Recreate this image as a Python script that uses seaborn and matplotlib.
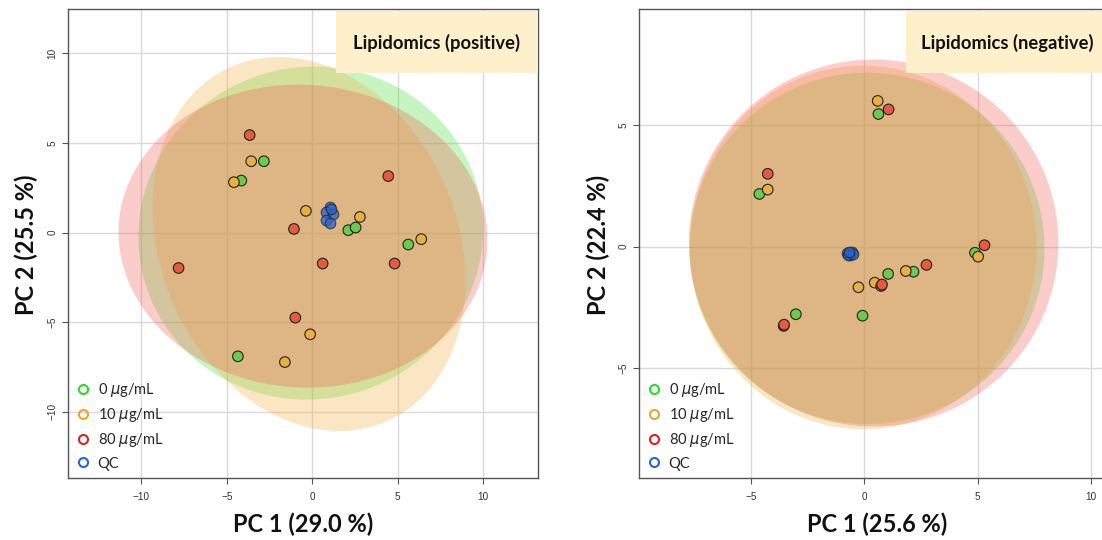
import numpy as np
import pandas as pd
import matplotlib
matplotlib.use("Agg")
import matplotlib.pyplot as plt
from matplotlib.patches import Ellipse, Rectangle
from matplotlib.lines import Line2D
import seaborn as sns

# ---------------- data ----------------
group_names = ["0 $\\mu$g/mL", "10 $\\mu$g/mL", "80 $\\mu$g/mL", "QC"]

# Lipidomics (positive) PCA scores
pos_green_x = [-2.84, -4.16, 2.10, 2.53, 5.61, -4.36]
pos_green_y = [3.98, 2.90, 0.13, 0.28, -0.67, -6.91]
pos_orange_x = [-3.58, -4.59, -0.38, 2.78, 6.37, -0.13, -1.61]
pos_orange_y = [3.98, 2.81, 1.21, 0.87, -0.37, -5.68, -7.23]
pos_red_x = [-3.67, 4.44, -1.08, 0.60, 4.81, -7.83, -1.00]
pos_red_y = [5.44, 3.15, 0.20, -1.73, -1.73, -1.98, -4.75]
pos_qc_x = [1.05, 0.81, 1.18, 0.81, 1.01, 1.07]
pos_qc_y = [1.45, 1.12, 1.06, 0.69, 0.54, 1.34]

# Lipidomics (negative) PCA scores
neg_green_x = [0.62, -4.63, 4.88, 1.05, 2.17, -3.02, -0.08]
neg_green_y = [5.46, 2.17, -0.25, -1.12, -1.03, -2.78, -2.84]
neg_orange_x = [0.59, -4.26, 5.02, 1.83, 0.46, -0.26]
neg_orange_y = [6.00, 2.35, -0.41, -1.00, -1.48, -1.67]
neg_red_x = [1.07, -4.26, 5.30, 2.74, 0.74, 0.78, -3.56, -3.54]
neg_red_y = [5.65, 3.00, 0.06, -0.75, -1.62, -1.56, -3.26, -3.21]
neg_qc_x = [-0.75, -0.55, -0.62, -0.70, -0.50, -0.66]
neg_qc_y = [-0.28, -0.20, -0.35, -0.36, -0.30, -0.22]

# 95% confidence ellipses (order: 0, 10, 80 ug/mL): centre, semi-axes, angle
pos_ell_cx = [-0.10, -0.20, -0.55]
pos_ell_cy = [-0.03, -0.64, -0.20]
pos_ell_a = [10.1, 8.6, 10.8]
pos_ell_b = [9.28, 10.9, 8.45]
pos_ell_ang = [8, 28, -3]

neg_ell_cx = [0.12, -0.05, 0.41]
neg_ell_cy = [-0.07, -0.03, 0.15]
neg_ell_a = [7.83, 7.65, 8.15]
neg_ell_b = [7.23, 7.48, 7.55]
neg_ell_ang = [0, 0, 0]

pos_pc1, pos_pc2 = 29.0, 25.5
neg_pc1, neg_pc2 = 25.6, 22.4

# ---------------- style ----------------
point_colors = ["#6CCB4E", "#EBAF41", "#E65A40", "#2864D2"]
fill_colors = ["#48DE37", "#F5AF3E", "#F25A50"]
legend_colors = ["#2BD92B", "#F0A22E", "#DD2222", "#2266DD"]

sns.set_theme(style="white")
plt.rcParams["font.family"] = ["Lato", "DejaVu Sans"]
plt.rcParams["mathtext.fontset"] = "dejavusans"

W, H = 1102, 540
fig = plt.figure(figsize=(W / 100, H / 100), dpi=100)


def rect(l, r, t, b):
    return [l / W, 1 - b / H, (r - l) / W, (b - t) / H]


def frame(xs, ys):
    rows = []
    for g, (x, y) in enumerate(zip(xs, ys)):
        for xi, yi in zip(x, y):
            rows.append({"PC1": xi, "PC2": yi, "group": group_names[g]})
    return pd.DataFrame(rows)


def draw_panel(ax, df, ell, xlim, ylim, xticks, yticks, xlab, ylab,
               title, title_x, xlab_x, ylab_x):
    ax.set_xlim(*xlim)
    ax.set_ylim(*ylim)
    ax.set_xticks(xticks)
    ax.set_yticks(yticks)
    ax.grid(True, color="#DADADA", linewidth=1.0, zorder=0)
    ax.set_axisbelow(True)

    cx, cy, a, b, ang = ell
    for i in range(3):
        ax.add_patch(Ellipse((cx[i], cy[i]), 2 * a[i], 2 * b[i], angle=ang[i],
                             facecolor=fill_colors[i], edgecolor="none",
                             alpha=0.3, zorder=1))

    main = df[df["group"] != "QC"]
    qc = df[df["group"] == "QC"]
    sns.scatterplot(data=main, x="PC1", y="PC2", hue="group",
                    hue_order=group_names[:3], palette=point_colors[:3],
                    s=58, edgecolor="#222222", linewidth=0.8, legend=False,
                    ax=ax, zorder=3)
    sns.scatterplot(data=qc, x="PC1", y="PC2", color=point_colors[3],
                    s=58, edgecolor="#222222", linewidth=0.8, alpha=0.75,
                    legend=False, ax=ax, zorder=4)

    for s in ax.spines.values():
        s.set_color("#555555")
        s.set_linewidth(1.0)
    ax.tick_params(axis="both", bottom=True, left=True, direction="out",
                   length=4.3, width=0.8, color="#555555", labelsize=7.2,
                   labelcolor="#333333")
    ax.tick_params(axis="x", pad=6.0)
    ax.tick_params(axis="y", pad=3.5)
    for lab in ax.get_xticklabels() + ax.get_yticklabels():
        lab.set_fontfamily(["Liberation Sans", "DejaVu Sans"])
    for lab in ax.get_yticklabels():
        lab.set_rotation(90)
        lab.set_verticalalignment("center")

    ax.set_xlabel(xlab, fontsize=17, fontweight="bold", color="#111111")
    ax.set_ylabel(ylab, fontsize=17, fontweight="bold", color="#111111")
    ax.xaxis.set_label_coords(xlab_x, -0.098)
    ax.yaxis.set_label_coords(ylab_x, 0.497)
    ax.xaxis.label.set_verticalalignment("center")
    ax.yaxis.label.set_verticalalignment("center")

    ax.add_patch(Rectangle((title_x[0], 0.864), title_x[1] - title_x[0],
                           0.1323, transform=ax.transAxes, facecolor="#FFF0CC",
                           edgecolor="none", clip_on=False, zorder=6))
    ax.text(title_x[2], 0.928, title, transform=ax.transAxes, ha="center",
            va="center", fontsize=13.2, fontweight="bold", color="#111111",
            zorder=7)

    handles = [Line2D([], [], linestyle="none", marker="o", markersize=6.5,
                      markerfacecolor="none", markeredgecolor=c,
                      markeredgewidth=1.5) for c in legend_colors]
    ax.legend(handles, group_names, loc="lower left",
              bbox_to_anchor=(0.0164, 0.016), frameon=False, fontsize=10.5,
              handlelength=1.0, handletextpad=0.5, labelspacing=0.5,
              borderpad=0, borderaxespad=0)


ax1 = fig.add_axes(rect(68, 538, 9.3, 478))
ax2 = fig.add_axes(rect(639, 1106, 9.3, 478))

draw_panel(ax1,
           frame([pos_green_x, pos_orange_x, pos_red_x, pos_qc_x],
                 [pos_green_y, pos_orange_y, pos_red_y, pos_qc_y]),
           (pos_ell_cx, pos_ell_cy, pos_ell_a, pos_ell_b, pos_ell_ang),
           (-14.3, 13.2), (-13.7, 12.46), [-10, -5, 0, 5, 10],
           [-10, -5, 0, 5, 10],
           f"PC 1 ({pos_pc1:.1f} %)", f"PC 2 ({pos_pc2:.1f} %)",
           "Lipidomics (positive)", (0.570, 1.0, 0.785), 0.501, -0.0894)

draw_panel(ax2,
           frame([neg_green_x, neg_orange_x, neg_red_x, neg_qc_x],
                 [neg_green_y, neg_orange_y, neg_red_y, neg_qc_y]),
           (neg_ell_cx, neg_ell_cy, neg_ell_a, neg_ell_b, neg_ell_ang),
           (-9.94, 10.66), (-9.52, 9.77), [-5, 0, 5, 10], [-5, 0, 5],
           f"PC 1 ({neg_pc1:.1f} %)", f"PC 2 ({neg_pc2:.1f} %)",
           "Lipidomics (negative)", (0.5717, 1.0, 0.788), 0.509, -0.0867)

fig.savefig("out.png", dpi=100)
